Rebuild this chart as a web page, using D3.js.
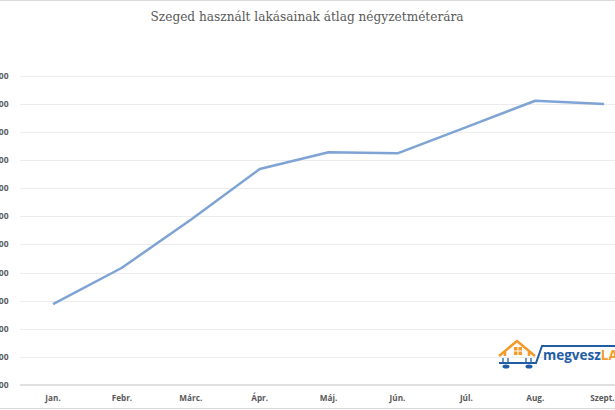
<!DOCTYPE html>
<html>
<head>
<meta charset="utf-8">
<script src="https://cdn.jsdelivr.net/npm/d3@7"></script>
<style>
  body { margin: 0; background: #fff; }
  svg { display: block; }
</style>
</head>
<body>
<svg width="615" height="410"></svg>
<script>
var months = ["Jan.", "Febr.", "Márc.", "Ápr.", "Máj.", "Jún.", "Júl.", "Aug.", "Szept."];
var prices = [288800, 301700, 318800, 336800, 342800, 342400, 351700, 361100, 359900];
var yTicks = [260000, 270000, 280000, 290000, 300000, 310000, 320000, 330000, 340000, 350000, 360000, 370000];
var title = "Szeged használt lakásainak átlag négyzetméterára";

var svg = d3.select("svg"),
    width = +svg.attr("width"),
    height = +svg.attr("height");

var xScale = d3.scalePoint().domain(months).range([18.6, 638.6]).padding(0.5),
    yScale = d3.scaleLinear().domain([260000, 370000]).range([385, 75.7]);

var fmt = function(v) { return d3.format(",")(v).replace(/,/g, " "); };

// chart frame edges (the picture is a crop)
svg.append("line").attr("x1", 0).attr("x2", width).attr("y1", 0.5).attr("y2", 0.5)
    .attr("stroke", "#d9d9d9");
svg.append("line").attr("x1", 0).attr("x2", width).attr("y1", 408.5).attr("y2", 408.5)
    .attr("stroke", "#d9d9d9");

svg.append("text")
    .attr("x", 307).attr("y", 21)
    .attr("text-anchor", "middle")
    .attr("font-family", "'DejaVu Serif Condensed', 'DejaVu Serif', serif")
    .attr("font-size", 13.5)
    .attr("fill", "#595959")
    .text(title);

// gridlines
svg.append("g").selectAll("line")
    .data(yTicks.slice(1))
    .enter().append("line")
    .attr("x1", 20).attr("x2", width)
    .attr("y1", function(d) { return Math.round(yScale(d)) + 0.5; })
    .attr("y2", function(d) { return Math.round(yScale(d)) + 0.5; })
    .attr("stroke", "#ececec");

// x axis line
svg.append("line")
    .attr("x1", 20).attr("x2", width)
    .attr("y1", yScale(260000)).attr("y2", yScale(260000))
    .attr("stroke", "#bfbfbf");

// y labels (cut off by the left edge like the reference)
svg.append("g").selectAll("text")
    .data(yTicks)
    .enter().append("text")
    .attr("x", 8.5)
    .attr("y", function(d) { return yScale(d); })
    .attr("dy", "0.35em")
    .attr("text-anchor", "end")
    .attr("font-family", "'Open Sans', sans-serif")
    .attr("font-weight", "bold")
    .attr("font-size", 8.5)
    .attr("fill", "#595959")
    .text(fmt);

// x labels
svg.append("g").selectAll("text")
    .data(months)
    .enter().append("text")
    .attr("x", function(d) { return Math.min(xScale(d), 602.5); })
    .attr("y", 401)
    .attr("text-anchor", "middle")
    .attr("font-family", "'Open Sans', sans-serif")
    .attr("font-weight", "bold")
    .attr("font-size", 8.2)
    .attr("fill", "#595959")
    .text(function(d) { return d; });

var line = d3.line()
    .x(function(d, i) { return xScale(months[i]); })
    .y(function(d) { return yScale(d); });

svg.append("path")
    .datum(prices)
    .attr("d", line)
    .attr("fill", "none")
    .attr("stroke", "#7ea3d4")
    .attr("stroke-width", 2.5)
    .attr("stroke-linejoin", "round");

// megveszLAK logo
var logo = svg.append("g");
logo.append("path")
    .attr("d", "M499,356 L517,341 L535,356 M505,351 L505,356 M529,351 L529,356")
    .attr("fill", "none").attr("stroke", "#f39a2b").attr("stroke-width", 2.5)
    .attr("stroke-linejoin", "round");
[[514, 347], [518.5, 347], [514, 351.5], [518.5, 351.5]].forEach(function(p) {
  logo.append("rect").attr("x", p[0]).attr("y", p[1]).attr("width", 3.5).attr("height", 3.5)
      .attr("fill", "#f39a2b");
});
logo.append("path")
    .attr("d", "M503,358 L503,362 M508,358 L508,362 M526,358 L526,362 M531,358 L531,362")
    .attr("stroke", "#1f5ea6").attr("stroke-width", 1.3);
logo.append("path")
    .attr("d", "M499,363 L536,363 L542,346 L615,346")
    .attr("fill", "none").attr("stroke", "#1f5ea6").attr("stroke-width", 2);
logo.append("ellipse").attr("cx", 506).attr("cy", 366.5).attr("rx", 3.5).attr("ry", 2).attr("fill", "#1f5ea6");
logo.append("ellipse").attr("cx", 529).attr("cy", 366.5).attr("rx", 3.5).attr("ry", 2).attr("fill", "#1f5ea6");
var lt = logo.append("text")
    .attr("x", 543).attr("y", 360)
    .attr("font-family", "'Open Sans', sans-serif")
    .attr("font-weight", "bold")
    .attr("font-size", 13.5);
lt.append("tspan").attr("fill", "#1f5ea6").text("megvesz");
lt.append("tspan").attr("fill", "#f39a2b").text("LAKAS");
</script>
</body>
</html>
